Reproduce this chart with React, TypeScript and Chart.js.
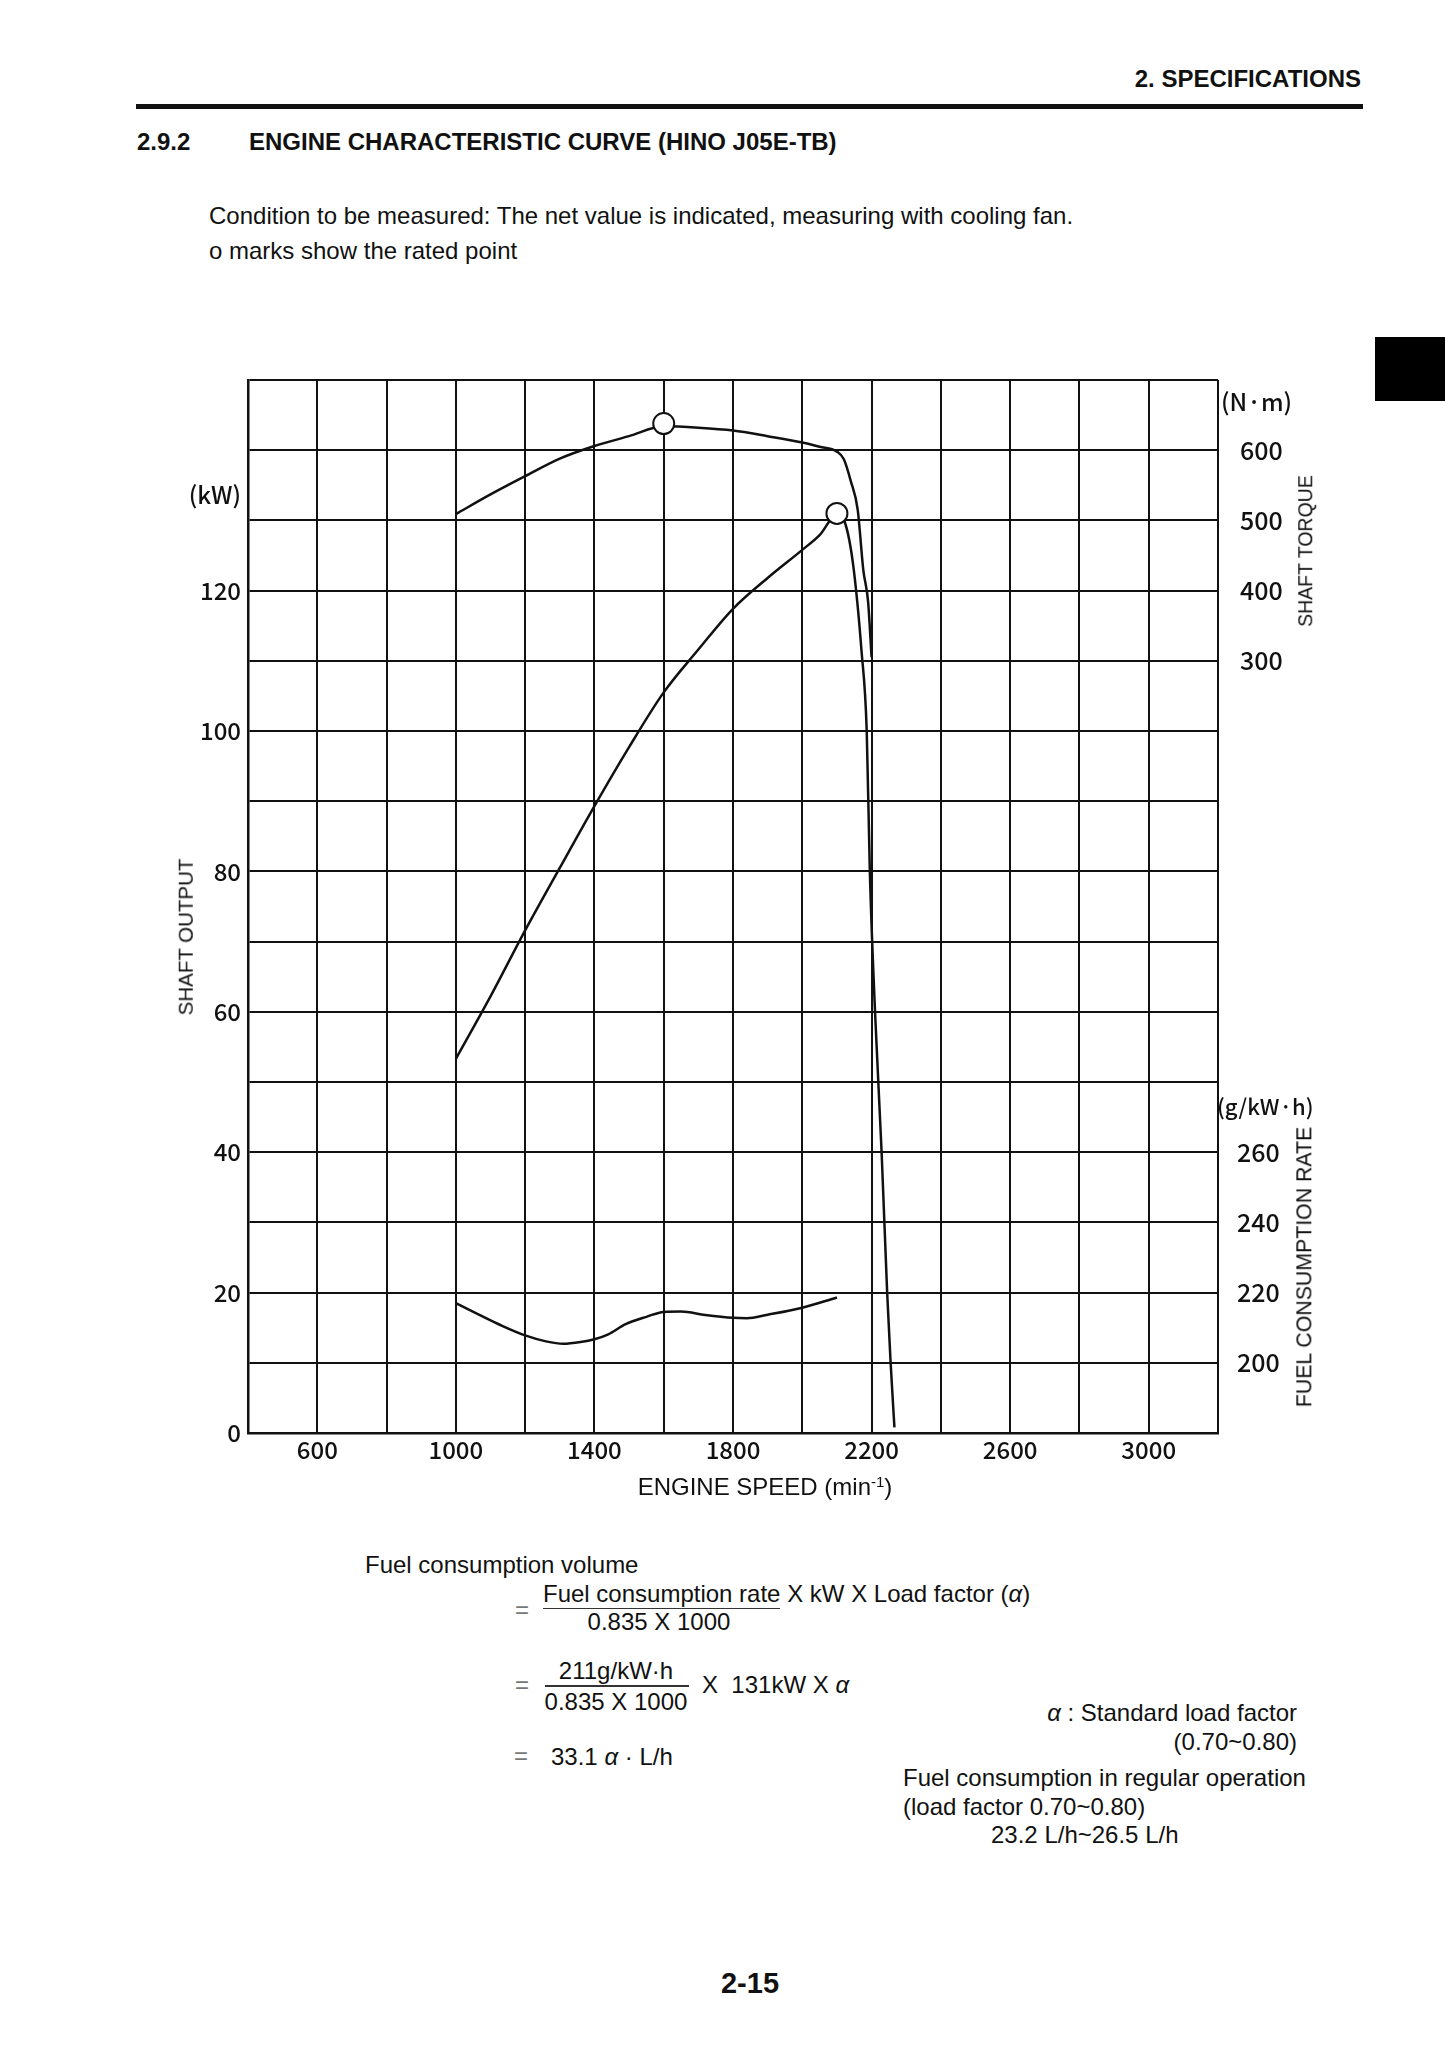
import React, { useEffect, useRef } from "react";
import { Chart, registerables } from "chart.js";

Chart.register(...registerables);

// ---- Axis ranges / tick labels ----
const speedMin = 400;
const speedMax = 3200;
const speedStep = 200;
const speedTicks = [600, 1000, 1400, 1800, 2200, 2600, 3000];

const outputMin = 0;
const outputMax = 150;
const outputStep = 10;
const outputTicks = [0, 20, 40, 60, 80, 100, 120];

const torqueMin = -800;
const torqueMax = 700;
const torqueStep = 100;
const torqueTicks = [300, 400, 500, 600];

const fuelMin = 180;
const fuelMax = 480;
const fuelStep = 20;
const fuelTicks = [200, 220, 240, 260];

// ---- Series ----
const torqueRpm = [1000, 1100, 1200, 1300, 1400, 1500, 1600, 1700, 1800, 1900, 2000, 2050, 2100, 2120, 2140, 2160, 2176, 2190, 2200];
const torqueNm = [509, 537, 563, 588, 606, 620, 634, 632, 628, 620, 611, 605, 598, 587, 556, 515, 430, 384, 305];

const powerRpm = [1000, 1100, 1200, 1300, 1400, 1500, 1600, 1700, 1800, 1900, 2000, 2050, 2100, 2123, 2147, 2171, 2186, 2195, 2210, 2229, 2245, 2255, 2266];
const powerKw = [53.3, 62.2, 71.6, 80.5, 89.3, 97.7, 105.5, 111.6, 117.4, 121.8, 125.8, 127.9, 130.8, 129.7, 123.6, 111.4, 100.0, 80.0, 60.0, 40.0, 20.0, 10.0, 0.8];

const fuelRpm = [1000, 1065, 1130, 1200, 1260, 1310, 1360, 1400, 1440, 1490, 1550, 1600, 1650, 1720, 1800, 1840, 1900, 2000, 2100];
const fuelRate = [217.0, 213.8, 210.7, 207.8, 206.1, 205.4, 205.9, 206.7, 208.1, 211.0, 213.1, 214.5, 214.6, 213.6, 212.8, 212.7, 213.7, 215.7, 218.6];

const ratedTorqueRpm = [1600];
const ratedTorqueNm = [638];
const ratedPowerRpm = [2100];
const ratedPowerKw = [131];

const toPoints = (xs: number[], ys: number[]) => xs.map((x, i) => ({ x, y: ys[i] }));

const INK = "#111111";
const TICK_FONT = "'Noto Sans CJK JP', 'Noto Sans', sans-serif";
const BODY_FONT = "'Liberation Sans', Arial, sans-serif";

// The fuel-rate axis shares the same label column as the torque axis
// (both printed to the right of the grid, one above the other).
const shareRightColumn = {
  id: "shareRightColumn",
  afterLayout(chart: any) {
    const t = chart.scales.yT;
    const f = chart.scales.yF;
    if (t && f) {
      f.left = t.left;
      f.right = t.right;
      f.width = t.width;
    }
  },
};

function EngineChart() {
  const ref = useRef<HTMLCanvasElement | null>(null);
  useEffect(() => {
    if (!ref.current) return;
    const lineStyle = {
      borderColor: INK,
      borderWidth: 2.5,
      pointRadius: 0,
      fill: false,
      cubicInterpolationMode: "monotone" as const,
    };
    const tickFont = { family: TICK_FONT, size: 24, weight: "500" as any };
    const chart = new Chart(ref.current, {
      type: "line",
      data: {
        datasets: [
          { ...lineStyle, label: "Torque", data: toPoints(torqueRpm, torqueNm), yAxisID: "yT" },
          { ...lineStyle, label: "Output", data: toPoints(powerRpm, powerKw), yAxisID: "y" },
          { ...lineStyle, label: "Fuel", data: toPoints(fuelRpm, fuelRate), yAxisID: "yF" },
          {
            label: "Rated torque",
            data: toPoints(ratedTorqueRpm, ratedTorqueNm),
            yAxisID: "yT",
            showLine: false,
            pointRadius: 10.5,
            pointBorderWidth: 2,
            pointBorderColor: INK,
            pointBackgroundColor: "#ffffff",
            order: -1,
          },
          {
            label: "Rated output",
            data: toPoints(ratedPowerRpm, ratedPowerKw),
            yAxisID: "y",
            showLine: false,
            pointRadius: 10.5,
            pointBorderWidth: 2,
            pointBorderColor: INK,
            pointBackgroundColor: "#ffffff",
            order: -1,
          },
        ],
      },
      options: {
        animation: false,
        responsive: false,
        maintainAspectRatio: false,
        layout: { padding: { left: 0, top: 40, right: 0, bottom: 0 } },
        plugins: { legend: { display: false }, tooltip: { enabled: false } },
        scales: {
          x: {
            type: "linear",
            position: "bottom",
            min: speedMin,
            max: speedMax,
            afterFit: (s: any) => { s.height = 67; },
            grid: { color: INK, lineWidth: 2, drawTicks: false },
            border: { display: true, color: INK, width: 2.5 },
            ticks: {
              stepSize: speedStep,
              autoSkip: false,
              maxRotation: 0,
              minRotation: 0,
              padding: 2,
              color: INK,
              font: tickFont,
              callback: (v: any) => (speedTicks.includes(Number(v)) ? String(v) : ""),
            },
          },
          y: {
            type: "linear",
            position: "left",
            min: outputMin,
            max: outputMax,
            afterFit: (s: any) => { s.width = 118; },
            grid: { color: INK, lineWidth: 2, drawTicks: false },
            border: { display: true, color: INK, width: 2.5 },
            ticks: {
              stepSize: outputStep,
              autoSkip: false,
              padding: 7,
              color: INK,
              font: tickFont,
              callback: (v: any) => (outputTicks.includes(Number(v)) ? String(v) : ""),
            },
          },
          yT: {
            type: "linear",
            position: "right",
            weight: 1,
            min: torqueMin,
            max: torqueMax,
            afterFit: (s: any) => { s.width = 112; },
            grid: { display: false, drawTicks: false },
            border: { display: false },
            ticks: {
              stepSize: torqueStep,
              autoSkip: false,
              padding: 22,
              crossAlign: "center",
              color: INK,
              font: { ...tickFont, size: 25 },
              callback: (v: any) => (torqueTicks.includes(Number(v)) ? String(v) : ""),
            },
          },
          yF: {
            type: "linear",
            position: "right",
            weight: 2,
            min: fuelMin,
            max: fuelMax,
            afterFit: (s: any) => { s.width = 0; },
            grid: { display: false, drawTicks: false },
            border: { display: false },
            ticks: {
              stepSize: fuelStep,
              autoSkip: false,
              padding: 19,
              crossAlign: "center",
              color: INK,
              font: { ...tickFont, size: 25 },
              callback: (v: any) => (fuelTicks.includes(Number(v)) ? String(v) : ""),
            },
          },
        },
      } as any,
      plugins: [shareRightColumn],
    });
    return () => chart.destroy();
  }, []);
  return (
    <canvas
      ref={ref}
      width={1200}
      height={1160}
      style={{ position: "absolute", left: 130, top: 340, width: 1200, height: 1160 }}
    />
  );
}

type TProps = {
  x: number;
  y: number;
  size?: number;
  bold?: boolean;
  align?: "left" | "right" | "center";
  font?: string;
  color?: string;
  rotate?: boolean;
  weight?: number;
  children: React.ReactNode;
};

function T({ x, y, size = 24, bold, align = "left", font = BODY_FONT, color = "#111", rotate, weight, children }: TProps) {
  let transform = "translateY(-50%)";
  if (align === "right") transform = "translate(-100%,-50%)";
  if (align === "center") transform = "translate(-50%,-50%)";
  if (rotate) transform = "translate(-50%,-50%) rotate(-90deg)";
  return (
    <div
      style={{
        position: "absolute",
        left: x,
        top: y,
        transform,
        fontFamily: font,
        fontSize: size,
        fontWeight: weight ?? (bold ? 700 : 400),
        lineHeight: `${size}px`,
        whiteSpace: "nowrap",
        color,
      }}
    >
      {children}
    </div>
  );
}

const Alpha = () => <span style={{ fontStyle: "italic" }}>α</span>;

export default function App() {
  return (
    <div
      style={{
        position: "absolute",
        left: 0,
        top: 0,
        width: 1445,
        height: 2045,
        background: "#fff",
        overflow: "hidden",
      }}
    >
      <T x={1361} y={79} bold align="right">2. SPECIFICATIONS</T>
      <div style={{ position: "absolute", left: 136, top: 104, width: 1227, height: 5, background: "#111" }} />
      <T x={137} y={142} bold>2.9.2</T>
      <T x={249} y={142} bold>ENGINE CHARACTERISTIC CURVE (HINO J05E-TB)</T>
      <T x={209} y={216}>Condition to be measured: The net value is indicated, measuring with cooling fan.</T>
      <T x={209} y={251}>o marks show the rated point</T>

      <div style={{ position: "absolute", left: 1375, top: 337, width: 70, height: 64, background: "#000" }} />

      <EngineChart />

      <T x={241} y={494} size={24} align="right" font={TICK_FONT} weight={500}>(kW)</T>
      <T x={186} y={937} size={20.5} rotate>SHAFT OUTPUT</T>
      <T x={1221} y={401} size={24} font={TICK_FONT} weight={500}>(N·m)</T>
      <T x={1306} y={551} size={19.5} rotate>SHAFT TORQUE</T>
      <T x={1217} y={1105} size={22} font={TICK_FONT} weight={500}>(g/kW·h)</T>
      <T x={1305} y={1267} size={21.3} rotate>FUEL CONSUMPTION RATE</T>
      <T x={765} y={1487} size={24} align="center">
        ENGINE SPEED (min<sup style={{ fontSize: 15, verticalAlign: "8px", lineHeight: 0 }}>-1</sup>)
      </T>

      <T x={365} y={1565}>Fuel consumption volume</T>
      <T x={515} y={1610} color="#777">=</T>
      <T x={543} y={1594}>
        <span style={{ borderBottom: "1.5px solid #333", paddingBottom: 1 }}>Fuel consumption rate</span> X kW X Load factor (<Alpha />)
      </T>
      <T x={659} y={1622} align="center">0.835 X 1000</T>
      <T x={515} y={1685} color="#777">=</T>
      <T x={616} y={1671} align="center">211g/kW·h</T>
      <div style={{ position: "absolute", left: 545, top: 1685, width: 144, height: 1.5, background: "#333" }} />
      <T x={616} y={1702} align="center">0.835 X 1000</T>
      <T x={702} y={1685}>X&nbsp; 131kW X <Alpha /></T>
      <T x={514} y={1756} color="#777">=</T>
      <T x={551} y={1757}>33.1 <Alpha /> · L/h</T>

      <T x={1297} y={1713} align="right"><Alpha /> : Standard load factor</T>
      <T x={1297} y={1742} align="right">(0.70~0.80)</T>
      <T x={903} y={1778}>Fuel consumption in regular operation</T>
      <T x={903} y={1807}>(load factor 0.70~0.80)</T>
      <T x={991} y={1835}>23.2 L/h~26.5 L/h</T>

      <T x={750} y={1983} size={29} bold align="center">2-15</T>
    </div>
  );
}
